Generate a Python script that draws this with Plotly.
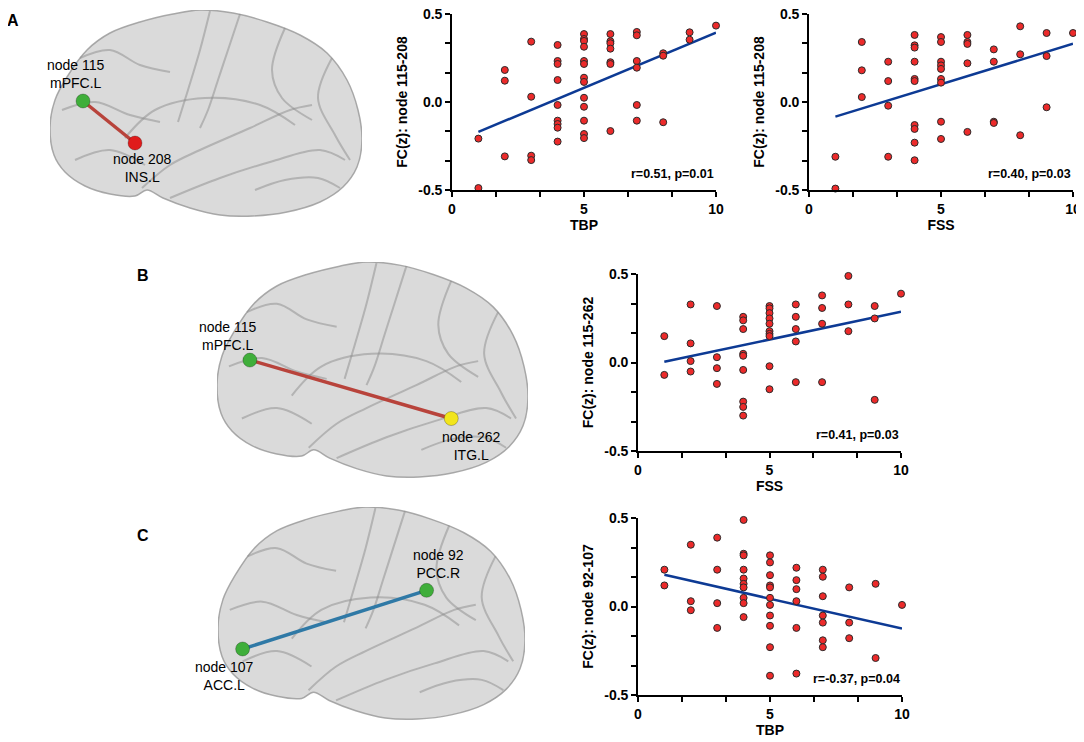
import plotly.graph_objects as go

# ---- scatter data ----
# A, left: TBP vs FC node 115-208
a1_x = [1, 1, 2, 2, 2, 3, 3, 3, 3,
        4, 4, 4, 4, 4, 4, 4, 4, 4,
        5, 5, 5, 5, 5, 5, 5, 5, 5, 5, 5, 5, 5,
        6, 6, 6, 6, 6, 6, 6,
        7, 7, 7, 7, 7, 7,
        8, 8, 8, 9, 9, 10]
a1_y = [-0.208, -0.489, 0.182, 0.121, -0.309, 0.343, 0.030, -0.305, -0.330,
        0.324, 0.233, 0.216, 0.125, -0.017, -0.106, -0.125, -0.146, -0.225,
        0.386, 0.358, 0.347, 0.314, 0.233, 0.216, 0.138, 0.114, 0.024, -0.027, -0.106, -0.182, -0.205,
        0.386, 0.345, 0.334, 0.303, 0.226, 0.216, -0.165,
        0.398, 0.379, 0.233, 0.195, -0.017, -0.106,
        0.277, 0.263, -0.115, 0.396, 0.354, 0.434]
a1_fit_x = [1, 10]
a1_fit_y = [-0.170, 0.394]

# A, right: FSS vs FC node 115-208
a2_x = [1, 1, 2, 2, 2, 3, 3, 3, 3,
        4, 4, 4, 4, 4, 4, 4, 4, 4, 4,
        5, 5, 5, 5, 5, 5, 5, 5, 5,
        6, 6, 6, 6, 6,
        7, 7, 7, 7,
        8, 8, 8, 9, 9, 9, 10]
a2_y = [-0.311, -0.492, 0.341, 0.180, 0.028, 0.229, 0.119, -0.021, -0.311,
        0.381, 0.322, 0.309, 0.229, 0.131, 0.119, -0.131, -0.153, -0.231, -0.331,
        0.369, 0.341, 0.229, 0.208, 0.188, 0.131, 0.110, -0.112, -0.210,
        0.381, 0.341, 0.330, 0.220, -0.170,
        0.299, 0.229, -0.112, -0.119,
        0.430, 0.271, -0.189, 0.392, 0.261, -0.030, 0.392]
a2_fit_x = [1, 10]
a2_fit_y = [-0.083, 0.331]

# B: FSS vs FC node 115-262
b_x = [1, 1, 2, 2, 2, 2, 3, 3, 3, 3,
       4, 4, 4, 4, 4, 4, 4, 4, 4,
       5, 5, 5, 5, 5, 5, 5, 5, 5, 5,
       6, 6, 6, 6, 6,
       7, 7, 7, 7,
       8, 8, 8, 9, 9, 9, 10]
b_y = [0.149, -0.070, 0.328, 0.108, 0.008, -0.051, 0.319, 0.030, -0.032, -0.121,
       0.258, 0.238, 0.189, 0.049, 0.038, -0.042, -0.221, -0.251, -0.300,
       0.319, 0.306, 0.279, 0.249, 0.219, 0.177, 0.162, 0.149, -0.021, -0.151,
       0.328, 0.258, 0.189, 0.119, -0.111,
       0.379, 0.308, 0.219, -0.111,
       0.489, 0.328, 0.177, 0.319, 0.249, -0.211, 0.389]
b_fit_x = [1, 10]
b_fit_y = [0.004, 0.287]

# C: TBP vs FC node 92-107
c_x = [1, 1, 2, 2, 2, 3, 3, 3, 3,
       4, 4, 4, 4, 4, 4, 4, 4, 4, 4,
       5, 5, 5, 5, 5, 5, 5, 5, 5, 5, 5,
       6, 6, 6, 6, 6, 6,
       7, 7, 7, 7, 7, 7, 7,
       8, 8, 8, 9, 9, 10]
c_y = [0.208, 0.119, 0.349, 0.030, -0.021, 0.389, 0.208, 0.019, -0.121,
       0.489, 0.298, 0.289, 0.208, 0.158, 0.128, 0.108, 0.049, 0.019, -0.060,
       0.289, 0.249, 0.177, 0.119, 0.108, 0.049, 0.009, -0.051, -0.109, -0.230, -0.391,
       0.219, 0.149, 0.098, 0.030, -0.121, -0.379,
       0.208, 0.168, 0.058, -0.051, -0.091, -0.191, -0.230,
       0.108, -0.091, -0.179, 0.128, -0.291, 0.009]
c_fit_x = [1, 10]
c_fit_y = [0.179, -0.125]

panels = [
    dict(x=a1_x, y=a1_y, fx=a1_fit_x, fy=a1_fit_y, xt="TBP", yt="FC(z): node 115-208", stat="r=0.51, p=0.01"),
    dict(x=a2_x, y=a2_y, fx=a2_fit_x, fy=a2_fit_y, xt="FSS", yt="FC(z): node 115-208", stat="r=0.40, p=0.03"),
    dict(x=b_x, y=b_y, fx=b_fit_x, fy=b_fit_y, xt="FSS", yt="FC(z): node 115-262", stat="r=0.41, p=0.03"),
    dict(x=c_x, y=c_y, fx=c_fit_x, fy=c_fit_y, xt="TBP", yt="FC(z): node 92-107", stat="r=-0.37, p=0.04"),
]

# ---- brain sketch (template outline, in template units) ----
brain_outline_x = [0, 5, 17, 37, 60, 90, 123, 150, 183, 217, 250, 277, 297, 308, 312, 307, 293, 270,
                   237, 203, 170, 140, 113, 97, 85, 60, 35, 15, 4, 0]
brain_outline_y = [117, 90, 67, 40, 23, 12, 4, 0, 3, 12, 25, 43, 70, 100, 130, 157, 177, 192,
                   202, 206, 205, 198, 188, 180, 186, 184, 176, 162, 145, 117]
# temporal lobe / insula boundary and a few gyri
sulci = [
    ([92, 120, 150, 200, 240, 262], [178, 155, 140, 118, 100, 95]),
    ([120, 170, 220, 270, 295], [188, 168, 152, 140, 150]),
    ([190, 178, 168, 158, 150], [4, 40, 70, 100, 118]),
    ([160, 150, 138, 128], [1, 40, 80, 112]),
    ([30, 60, 90, 120], [48, 40, 55, 62]),
    ([12, 45, 80, 110], [100, 92, 105, 112]),
    ([25, 60, 95], [150, 140, 155]),
    ([235, 222, 232, 262], [18, 60, 88, 110]),
    ([282, 268, 285, 300], [48, 88, 125, 150]),
    ([75, 105, 155, 210, 245], [128, 100, 88, 95, 115]),
    ([205, 235, 268, 290], [180, 170, 168, 178]),
]

# brain node positions and labels, in template units
brains = [
    dict(nx=[33, 85], ny=[91, 133], colors=["#3fae3a", "#e01b1b"], edge="#b8433b",
         lx=[26, 92], ly=[64, 158], labels=["node 115<br>mPFC.L", "node 208<br>INS.L"]),
    dict(nx=[33, 235], ny=[94, 150], colors=["#3fae3a", "#f2e51c"], edge="#b8433b",
         lx=[11, 255], ly=[71, 176], labels=["node 115<br>mPFC.L", "node 262<br>ITG.L"]),
    dict(nx=[25, 212], ny=[138, 81], colors=["#3fae3a", "#3fae3a"], edge="#2f79a6",
         lx=[7, 224], ly=[164, 55], labels=["node 107<br>ACC.L", "node 92<br>PCC.R"]),
]

# the page body has an 8px margin, so the figure is drawn 8px smaller and shifted
PAGE_W, PAGE_H, OFF = 1084, 742, 8
W, H = PAGE_W - OFF, PAGE_H - OFF
FONT = "Liberation Sans, Arial, sans-serif"

# pixel boxes (left, right, top, bottom) of the plot areas, in page pixels
scatter_boxes = [(452, 716, 14, 190), (809, 1073, 14, 190), (638, 901, 274, 451), (638, 902, 518, 695)]
brain_boxes = [(50, 362, 10, 217), (217, 528, 262, 478), (218, 525, 507, 720)]


def dom(box):
    l, r, t, b = [v - OFF for v in box]
    return [l / W, r / W], [1 - b / H, 1 - t / H]


fig = go.Figure()
layout = dict(width=W, height=H, autosize=False, margin=dict(l=0, r=0, t=0, b=0, pad=0),
              paper_bgcolor="white", plot_bgcolor="white", showlegend=False,
              font=dict(family=FONT, color="black"), annotations=[])

xticks = [0, 5 / 3, 10 / 3, 5, 20 / 3, 25 / 3, 10]
yticks = [-0.5, -1 / 3, -1 / 6, 0, 1 / 6, 1 / 3, 0.5]

for i, p in enumerate(panels):
    n = i + 1
    xa, ya = f"x{n}", f"y{n}"
    fig.add_trace(go.Scatter(x=p["fx"], y=p["fy"], mode="lines", xaxis=xa, yaxis=ya,
                             line=dict(color="#0d3a94", width=2.5), hoverinfo="skip"))
    fig.add_trace(go.Scatter(x=p["x"], y=p["y"], mode="markers", xaxis=xa, yaxis=ya, cliponaxis=False,
                             marker=dict(size=7, color="#ec2a2a", line=dict(color="#2b2b2b", width=1))))
    xd, yd = dom(scatter_boxes[i])
    common = dict(showgrid=False, zeroline=False, showline=True, linecolor="black", linewidth=1.6,
                  ticks="outside", ticklen=5, tickwidth=1.5, tickcolor="black", automargin=False,
                  ticklabeloverflow="allow",
                  tickfont=dict(family=FONT, size=14, weight="bold"))
    layout[f"xaxis{n}"] = dict(domain=xd, anchor=ya, range=[0, 10], tickvals=xticks,
                               ticktext=["0", "", "", "5", "", "", "10"],
                               title=dict(text=p["xt"], standoff=4, font=dict(family=FONT, size=14, weight="bold")),
                               **common)
    layout[f"yaxis{n}"] = dict(domain=yd, anchor=xa, range=[-0.5, 0.5], tickvals=yticks,
                               ticktext=["-0.5", "", "", "0.0", "", "", "0.5"],
                               title=dict(text=p["yt"], standoff=7, font=dict(family=FONT, size=14, weight="bold")),
                               **common)
    layout["annotations"].append(dict(x=10, y=-0.41, xref=xa, yref=ya, text=p["stat"], showarrow=False,
                                      xanchor="right", yanchor="middle",
                                      font=dict(family=FONT, size=12.5, weight="bold")))

for j, b in enumerate(brains):
    n = len(panels) + j + 1
    xa, ya = f"x{n}", f"y{n}"
    fig.add_trace(go.Scatter(x=brain_outline_x, y=brain_outline_y, mode="lines", fill="toself",
                             xaxis=xa, yaxis=ya, fillcolor="rgba(205,205,205,0.75)",
                             line=dict(color="rgba(150,150,150,0.8)", width=1.5, shape="spline"),
                             hoverinfo="skip"))
    for sx, sy in sulci:
        fig.add_trace(go.Scatter(x=sx, y=sy, mode="lines", xaxis=xa, yaxis=ya, hoverinfo="skip",
                                 line=dict(color="rgba(140,140,140,0.5)", width=2, shape="spline")))
    fig.add_trace(go.Scatter(x=b["nx"], y=b["ny"], mode="lines", xaxis=xa, yaxis=ya, hoverinfo="skip",
                             line=dict(color=b["edge"], width=3.5)))
    fig.add_trace(go.Scatter(x=b["nx"], y=b["ny"], mode="markers", xaxis=xa, yaxis=ya,
                             marker=dict(size=14, color=b["colors"], line=dict(color="rgba(0,0,0,0.25)", width=1))))
    xd, yd = dom(brain_boxes[j])
    layout[f"xaxis{n}"] = dict(domain=xd, anchor=ya, range=[0, 312], visible=False, automargin=False)
    layout[f"yaxis{n}"] = dict(domain=yd, anchor=xa, range=[207, 0], visible=False, automargin=False)
    for tx, ty, t in zip(b["lx"], b["ly"], b["labels"]):
        layout["annotations"].append(dict(x=tx, y=ty, xref=xa, yref=ya, text=t, showarrow=False,
                                          font=dict(family=FONT, size=14, color="black")))

# panel letters, page pixel positions
for letter, px, py in [("A", 13, 21), ("B", 143, 275), ("C", 143, 535)]:
    layout["annotations"].append(dict(x=(px - OFF) / W, y=1 - (py - OFF) / H, xref="paper", yref="paper",
                                      text=letter, showarrow=False, xanchor="center", yanchor="middle",
                                      font=dict(family=FONT, size=16, weight="bold")))

fig.update_layout(**layout)
fig.write_html("out.html")
